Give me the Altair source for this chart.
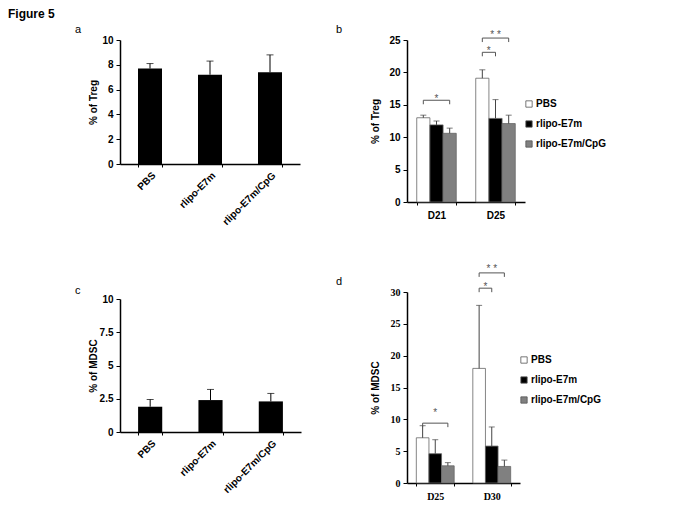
import altair as alt
import pandas as pd

FONT = "Liberation Sans"
SERIF = "Liberation Serif"

groups = ["PBS", "rlipo-E7m", "rlipo-E7m/CpG"]
group_colors = ["#ffffff", "#000000", "#808080"]

# panel a: % of Treg
treg_mean = [7.7, 7.2, 7.4]
treg_err = [0.4, 1.1, 1.4]
# panel c: % of MDSC
mdsc_mean = [1.9, 2.4, 2.3]
mdsc_err = [0.55, 0.8, 0.6]

# panel b: % of Treg by day
treg_days = ["D21", "D25"]
treg_pbs = [13.0, 19.1]
treg_pbs_err = [0.4, 1.3]
treg_e7m = [11.9, 12.9]
treg_e7m_err = [0.6, 2.9]
treg_cpg = [10.6, 12.1]
treg_cpg_err = [0.8, 1.3]

# panel d: % of MDSC by day
mdsc_days = ["D25", "D30"]
mdsc_pbs = [7.1, 18.0]
mdsc_pbs_err = [1.9, 9.9]
mdsc_e7m = [4.6, 5.8]
mdsc_e7m_err = [2.2, 3.0]
mdsc_cpg = [2.7, 2.6]
mdsc_cpg_err = [0.5, 1.0]

# significance brackets: day, from group, to group, bracket level, star level, label
treg_brackets = [
    ("D21", "PBS", "rlipo-E7m/CpG", 15.7, 16.4, "*"),
    ("D25", "PBS", "rlipo-E7m", 23.1, 23.7, "*"),
    ("D25", "PBS", "rlipo-E7m/CpG", 25.3, 26.3, "* *"),
]
mdsc_brackets = [
    ("D25", "PBS", "rlipo-E7m/CpG", 9.4, 11.4, "*"),
    ("D30", "PBS", "rlipo-E7m", 30.6, 31.2, "*"),
    ("D30", "PBS", "rlipo-E7m/CpG", 33.0, 34.1, "* *"),
]


def text_layer(txt, x, y, size=11, weight="normal", opacity=1.0, font=FONT):
    return alt.Chart(pd.DataFrame({"t": [txt]})).mark_text(
        text=txt, align="left", baseline="top", font=font, fontSize=size,
        fontWeight=weight, color="black", opacity=opacity,
    ).encode(x=alt.value(x), y=alt.value(y))


def simple_panel(means, errs, ytitle, ydomain, yvalues, width, height, title_pad, extras):
    df = pd.DataFrame({"group": groups, "mean": means,
                       "top": [m + e for m, e in zip(means, errs)]})
    xaxis = alt.Axis(title=None, labelAngle=-45, labelFont=FONT,
                     labelFontSize=10, labelFontWeight="bold",
                     labelColor="black", domainColor="black",
                     domainWidth=1.5, tickBand="extent",
                     tickColor="black", tickSize=3, labelPadding=3)
    yaxis = alt.Axis(values=yvalues, title=ytitle, labelExpr="datum.value + ''",
                     labelOverlap=False,
                     labelFont=FONT, labelFontSize=10, labelFontWeight="bold",
                     labelColor="black", domainColor="black", domainWidth=1.5,
                     tickColor="black", tickSize=4, labelPadding=3, grid=False,
                     titleFont=FONT, titleFontSize=10, titleFontWeight="bold",
                     titleColor="black", titlePadding=title_pad)
    xs = alt.X("group:N", sort=groups,
               scale=alt.Scale(paddingInner=0.6, paddingOuter=0.3), axis=xaxis)
    ysc = alt.Scale(domain=ydomain, nice=False)
    base = alt.Chart(df)
    bars = base.mark_bar(color="black").encode(
        x=xs, y=alt.Y("mean:Q", scale=ysc, axis=yaxis))
    rule = base.mark_rule(color="black", strokeWidth=1).encode(
        x=xs, y=alt.Y("mean:Q", scale=ysc, axis=yaxis), y2="top:Q")
    cap = base.mark_tick(color="black", thickness=1, size=7).encode(
        x=xs, y=alt.Y("top:Q", scale=ysc, axis=yaxis))
    return alt.layer(bars, rule, cap, *extras).properties(width=width, height=height)


def grouped_panel(days, series, errs, brackets, ytitle, ydomain, yvalues, width, height,
                  title_pad, legend_y, tick_font, extras):
    rows = []
    for g, vals, es in zip(groups, series, errs):
        for d, v, e in zip(days, vals, es):
            rows.append({"day": d, "group": g, "mean": v, "top": v + e})
    df = pd.DataFrame(rows)
    xaxis = alt.Axis(title=None, labelAngle=0, labelFont=tick_font,
                     labelFontSize=10, labelFontWeight="bold",
                     labelColor="black", domainColor="black",
                     domainWidth=1.5, tickBand="extent",
                     tickColor="black", tickSize=3, labelPadding=5)
    yaxis = alt.Axis(values=yvalues, title=ytitle, labelOverlap=False,
                     labelFont=tick_font, labelFontSize=10, labelFontWeight="bold",
                     labelColor="black", domainColor="black", domainWidth=1.5,
                     tickColor="black", tickSize=4, labelPadding=3, grid=False,
                     titleFont=FONT, titleFontSize=10, titleFontWeight="bold",
                     titleColor="black", titlePadding=title_pad)
    xs = alt.X("day:N", sort=days,
               scale=alt.Scale(paddingInner=0.33, paddingOuter=0.165), axis=xaxis)
    xo = alt.XOffset("group:N", sort=groups,
                     scale=alt.Scale(domain=groups, paddingInner=0, paddingOuter=0))
    ysc = alt.Scale(domain=ydomain, nice=False)
    fill = alt.Fill("group:N", sort=groups,
                    scale=alt.Scale(domain=groups, range=group_colors),
                    legend=alt.Legend(title=None, orient="none", legendX=width - 1,
                                      legendY=legend_y, symbolType="square",
                                      symbolSize=40, symbolStrokeColor="#555555",
                                      symbolStrokeWidth=0.8, labelFont=FONT,
                                      labelFontSize=10, labelFontWeight="bold",
                                      labelColor="black", rowPadding=10,
                                      labelOffset=2, padding=0))
    base = alt.Chart(df)
    bars = base.mark_bar(stroke="#666666", strokeWidth=0.8).encode(
        x=xs, xOffset=xo, y=alt.Y("mean:Q", scale=ysc, axis=yaxis), fill=fill)
    rule = base.mark_rule(color="#444444", strokeWidth=1).encode(
        x=xs, xOffset=xo, y=alt.Y("mean:Q", scale=ysc, axis=yaxis), y2="top:Q")
    cap = base.mark_tick(color="#444444", thickness=1, size=6).encode(
        x=xs, xOffset=xo, y=alt.Y("top:Q", scale=ysc, axis=yaxis))

    drop = (ydomain[1] - ydomain[0]) * 4.0 / height
    brows, srows_mid, srows_half = [], [], []
    for i, (d, g1, g2, lev, slev, lab) in enumerate(brackets):
        brows += [
            {"id": i, "day": d, "group": g1, "y": lev - drop, "o": 0},
            {"id": i, "day": d, "group": g1, "y": lev, "o": 1},
            {"id": i, "day": d, "group": g2, "y": lev, "o": 2},
            {"id": i, "day": d, "group": g2, "y": lev - drop, "o": 3},
        ]
        if g2 == groups[2]:
            srows_mid.append({"day": d, "group": groups[1], "y": slev, "lab": lab})
        else:
            srows_half.append({"day": d, "group": g1, "y": slev, "lab": lab})
    blines = alt.Chart(pd.DataFrame(brows)).mark_line(color="#555555", strokeWidth=1).encode(
        x=xs, xOffset=xo, y=alt.Y("y:Q", scale=ysc, axis=yaxis), detail="id:N", order="o:Q")
    star_mid = alt.Chart(pd.DataFrame(srows_mid)).mark_text(
        font=FONT, fontSize=10, color="#555555", baseline="middle", dy=3).encode(
        x=xs, xOffset=xo, y=alt.Y("y:Q", scale=ysc, axis=yaxis), text="lab:N")
    layers = [bars, rule, cap, blines, star_mid]
    if srows_half:
        star_half = alt.Chart(pd.DataFrame(srows_half)).mark_text(
            font=FONT, fontSize=10, color="#555555", baseline="middle", dy=3,
            dx=width * 0.055).encode(
            x=xs, xOffset=xo, y=alt.Y("y:Q", scale=ysc, axis=yaxis), text="lab:N")
        layers.append(star_half)
    return alt.layer(*layers, *extras).properties(width=width, height=height)


panel_a = simple_panel(
    treg_mean, treg_err, "% of Treg", [0, 10], [0, 2, 4, 6, 8, 10], 180, 124, 3,
    [text_layer("Figure 5", -112, -31, size=12, weight="bold"),
     text_layer("a", -45, -16, size=11)])

panel_c = simple_panel(
    mdsc_mean, mdsc_err, "% of MDSC", [0, 10], [0, 2.5, 5, 7.5, 10], 181, 133, 1,
    [text_layer("c", -45, -14, size=11),
     text_layer("c", -112, -14, size=11, opacity=0)])

panel_b = grouped_panel(
    treg_days, [treg_pbs, treg_e7m, treg_cpg], [treg_pbs_err, treg_e7m_err, treg_cpg_err],
    treg_brackets, "% of Treg", [0, 25], [0, 5, 10, 15, 20, 25], 118, 162, 8, 59, FONT,
    [text_layer("Figure 5", -71, -31, size=12, weight="bold", opacity=0),
     text_layer("b", -71, -16, size=11)])

panel_d = grouped_panel(
    mdsc_days, [mdsc_pbs, mdsc_e7m, mdsc_cpg], [mdsc_pbs_err, mdsc_e7m_err, mdsc_cpg_err],
    mdsc_brackets, "% of MDSC", [0, 30], [0, 5, 10, 15, 20, 25, 30], 113, 191, 10, 63, SERIF,
    [text_layer("d", -71, -16, size=11),
     text_layer("d", -71, -32, size=11, opacity=0)])

left = alt.vconcat(panel_a, panel_c, spacing=58).resolve_scale(
    x="independent", y="independent")
right = alt.vconcat(panel_b, panel_d, spacing=40).resolve_scale(
    x="independent", y="independent", fill="independent", xOffset="independent"
).resolve_legend(fill="independent")

chart = alt.hconcat(left, right, spacing=35).resolve_scale(
    x="independent", y="independent", fill="independent", xOffset="independent"
).resolve_legend(fill="independent").properties(padding=0).configure_view(stroke=None)

chart.save("out.html", embed_options={"renderer": "svg", "actions": False})
